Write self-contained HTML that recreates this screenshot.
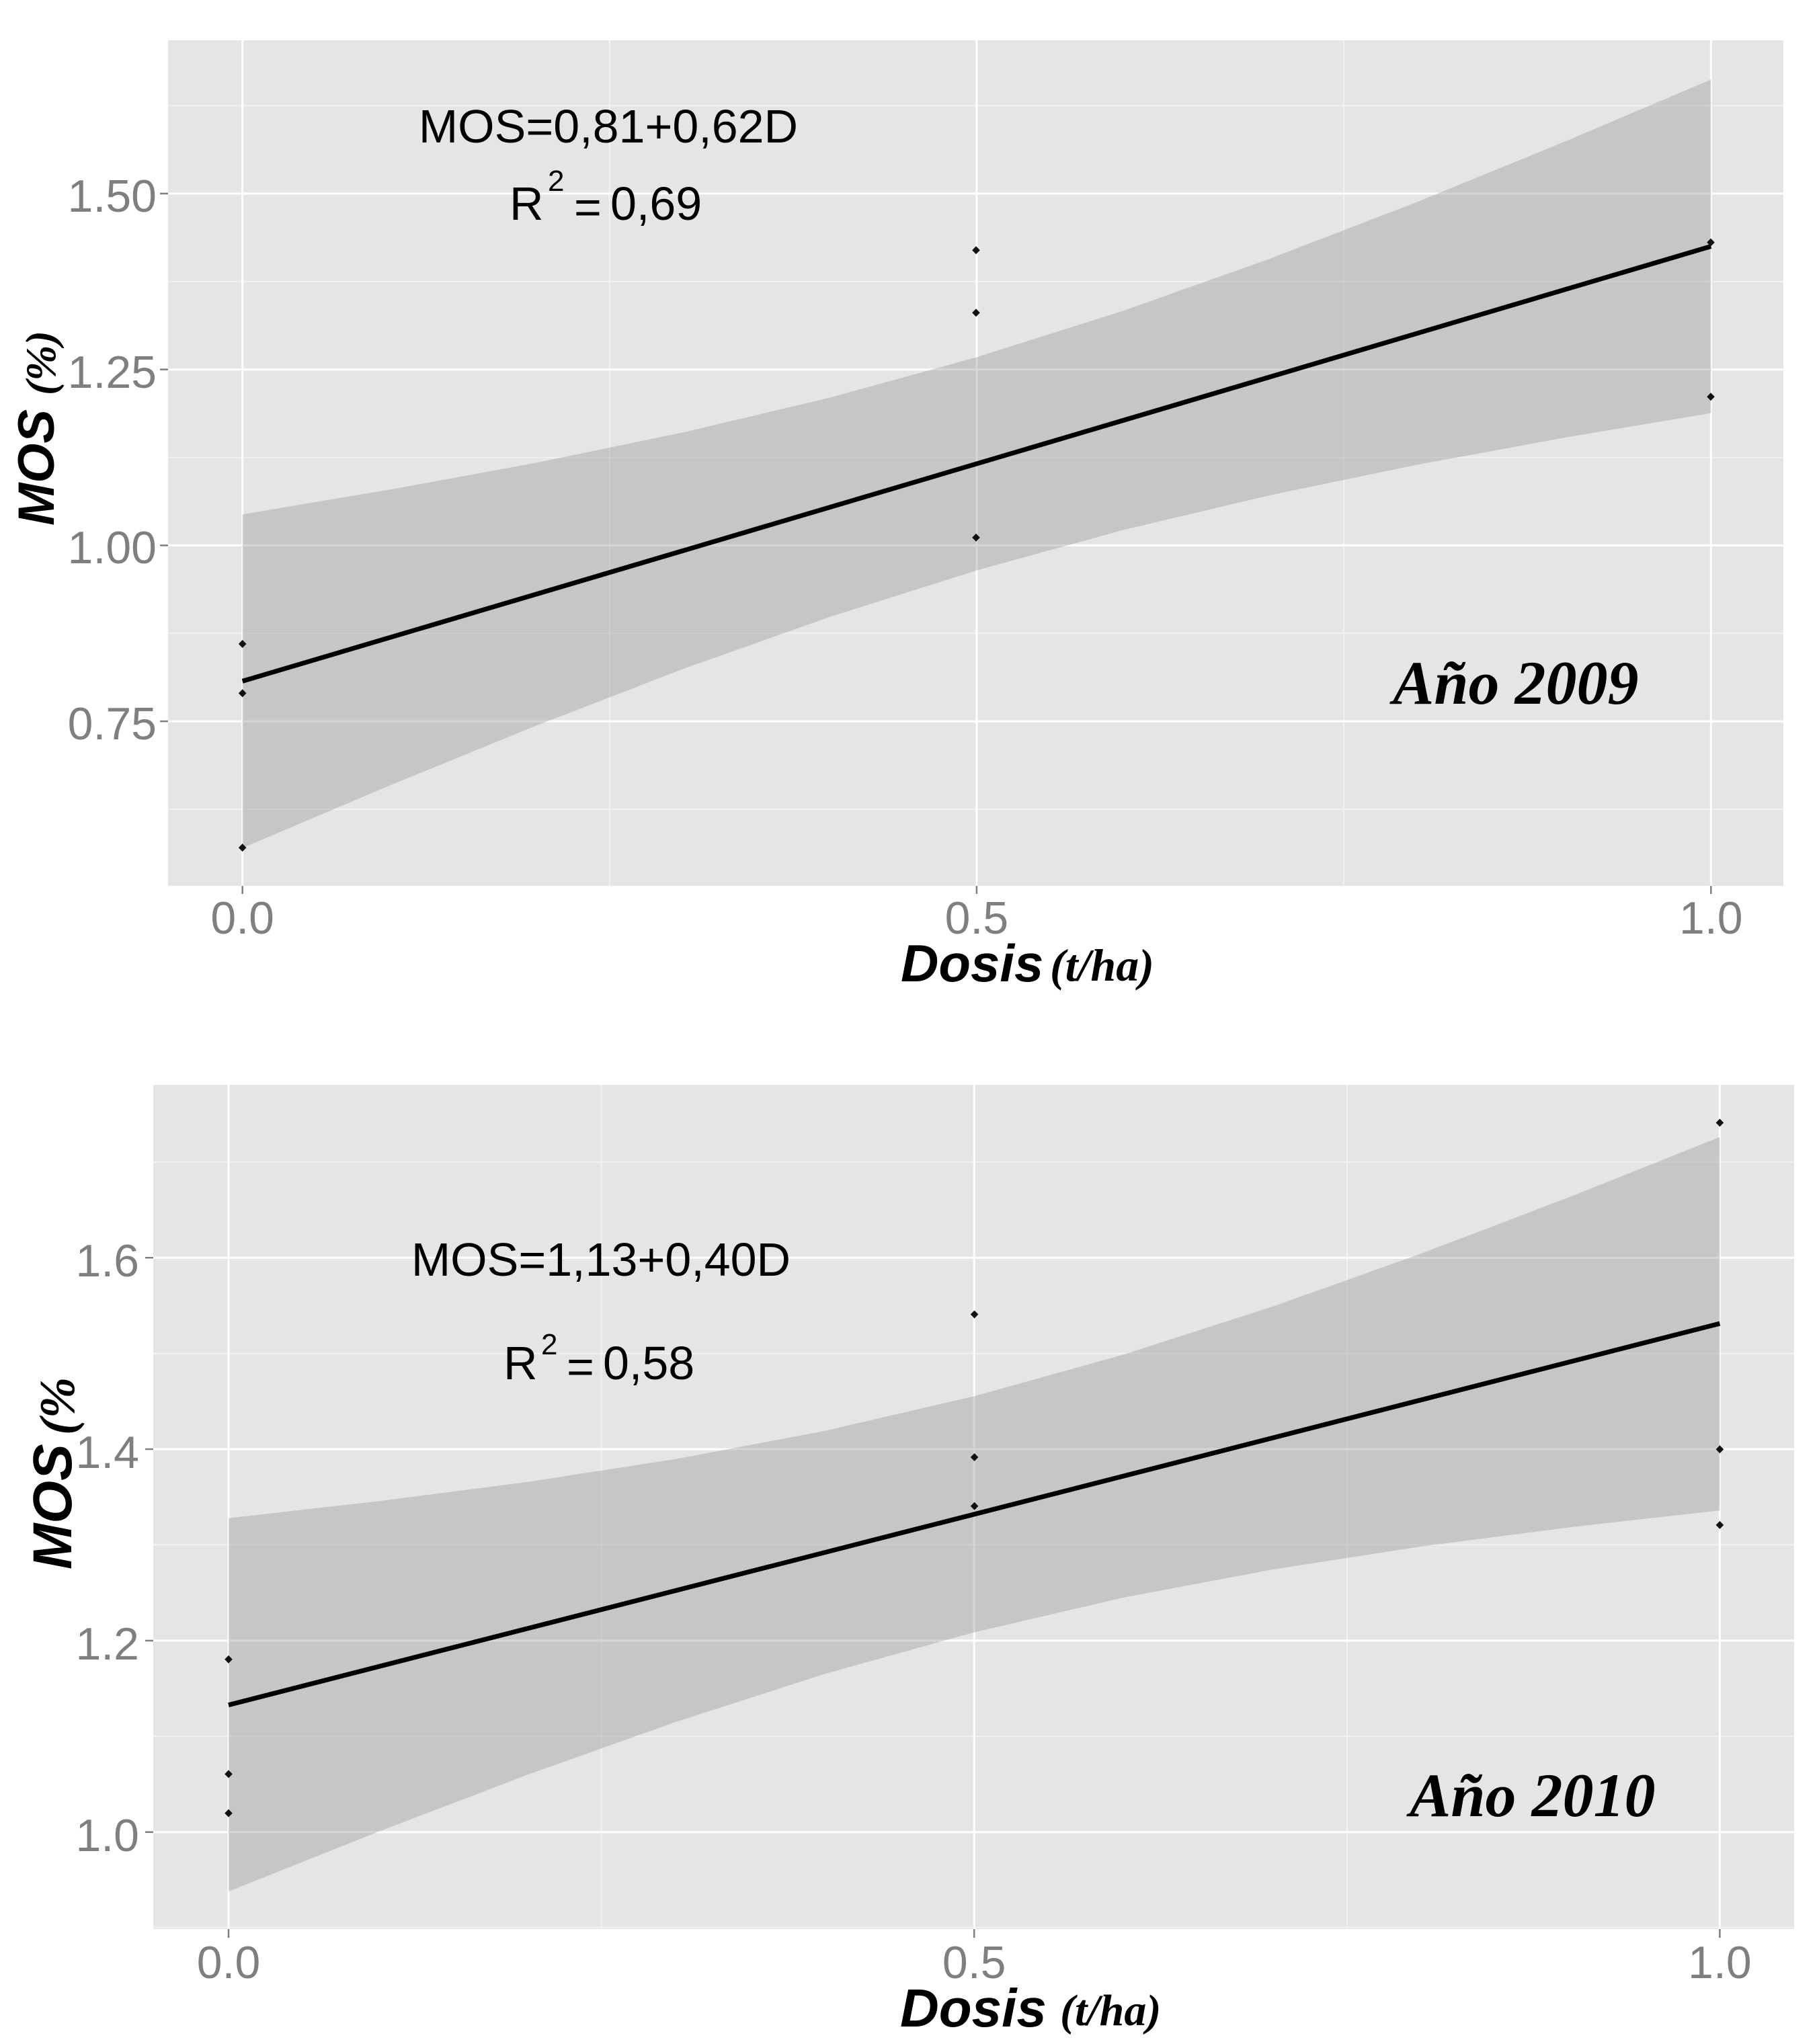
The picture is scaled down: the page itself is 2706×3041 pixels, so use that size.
<!DOCTYPE html>
<html>
<head>
<meta charset="utf-8">
<style>
  html, body { margin: 0; padding: 0; background: #ffffff; }
  svg { display: block; }
  .tick { font-family: "Liberation Sans", Arial, sans-serif; font-size: 68px; fill: #7F7F7F; }
  .ann { font-family: "Liberation Sans", Arial, sans-serif; fill: #000; }
  .ttl { font-family: "Liberation Sans", Arial, sans-serif; font-weight: bold; font-style: italic; fill: #000; }
  .ser { font-family: "Liberation Serif", "Times New Roman", serif; font-weight: bold; font-style: italic; fill: #000; }
</style>
</head>
<body>
<svg width="2706" height="3041" viewBox="0 0 2706 3041" xmlns="http://www.w3.org/2000/svg">
  <rect x="0" y="0" width="2706" height="3041" fill="#ffffff"/>

  <!-- ================= TOP PANEL (2009) ================= -->
  <rect x="250" y="60" width="2403" height="1258" fill="#E5E5E5"/>
  <g stroke="#F2F2F2" stroke-width="2">
    <line x1="250" y1="157.2" x2="2653" y2="157.2"/>
    <line x1="250" y1="418.9" x2="2653" y2="418.9"/>
    <line x1="250" y1="680.6" x2="2653" y2="680.6"/>
    <line x1="250" y1="942.3" x2="2653" y2="942.3"/>
    <line x1="250" y1="1203.9" x2="2653" y2="1203.9"/>
    <line x1="906.8" y1="60" x2="906.8" y2="1318"/>
    <line x1="1999.1" y1="60" x2="1999.1" y2="1318"/>
  </g>
  <g stroke="#FFFFFF" stroke-width="3">
    <line x1="250" y1="288" x2="2653" y2="288"/>
    <line x1="250" y1="549.7" x2="2653" y2="549.7"/>
    <line x1="250" y1="811.4" x2="2653" y2="811.4"/>
    <line x1="250" y1="1073.1" x2="2653" y2="1073.1"/>
    <line x1="360.7" y1="60" x2="360.7" y2="1318"/>
    <line x1="1452.9" y1="60" x2="1452.9" y2="1318"/>
    <line x1="2545.3" y1="60" x2="2545.3" y2="1318"/>
  </g>
  <polygon fill="#999999" fill-opacity="0.4" points="
    360.7,765.3 579.2,728.6 797.6,688.5 1016.1,643.4 1234.5,591.6 1453,531.4 1671.5,462.2 1889.9,384.6 2108.4,300.4 2326.8,211.1 2545.3,118.4
    2545.3,614.6 2326.8,651.3 2108.4,691.4 1889.9,736.6 1671.5,788.4 1453,848.6 1234.5,917.8 1016.1,995.3 797.6,1079.6 579.2,1168.9 360.7,1261.5"/>
  <line x1="360.7" y1="1013.4" x2="2545.3" y2="366.5" stroke="#000" stroke-width="7"/>
  <g fill="#111">
    <polygon points="360.7,952 366.5,958 360.7,964 354.9,958"/>
    <polygon points="360.7,1025.4 366.5,1031.4 360.7,1037.4 354.9,1031.4"/>
    <polygon points="360.7,1255.1 366.5,1261.1 360.7,1267.1 354.9,1261.1"/>
    <polygon points="1452,366.2 1457.8,372.2 1452,378.2 1446.2,372.2"/>
    <polygon points="1452,459.3 1457.8,465.3 1452,471.3 1446.2,465.3"/>
    <polygon points="1452,793.7 1457.8,799.7 1452,805.7 1446.2,799.7"/>
    <polygon points="2545,354.6 2550.8,360.6 2545,366.6 2539.2,360.6"/>
    <polygon points="2545,584.3 2550.8,590.3 2545,596.3 2539.2,590.3"/>
  </g>
  <g stroke="#7F7F7F" stroke-width="2.5">
    <line x1="238" y1="288" x2="250" y2="288"/>
    <line x1="238" y1="549.7" x2="250" y2="549.7"/>
    <line x1="238" y1="811.4" x2="250" y2="811.4"/>
    <line x1="238" y1="1073.1" x2="250" y2="1073.1"/>
    <line x1="360.7" y1="1318" x2="360.7" y2="1330"/>
    <line x1="1452.9" y1="1318" x2="1452.9" y2="1330"/>
    <line x1="2545.3" y1="1318" x2="2545.3" y2="1330"/>
  </g>
  <g class="tick" text-anchor="end">
    <text x="233" y="315">1.50</text>
    <text x="233" y="577">1.25</text>
    <text x="233" y="838">1.00</text>
    <text x="233" y="1100">0.75</text>
  </g>
  <g class="tick" text-anchor="middle">
    <text x="360.7" y="1389">0.0</text>
    <text x="1452.9" y="1389">0.5</text>
    <text x="2545.3" y="1389">1.0</text>
  </g>
  <text class="ann" x="905" y="212" font-size="70" text-anchor="middle">MOS=0,81+0,62D</text>
  <text class="ann" x="758" y="327" font-size="70">R</text>
  <text class="ann" x="815" y="284" font-size="44">2</text>
  <text class="ann" x="854" y="332" font-size="70">=</text>
  <text class="ann" x="908" y="327" font-size="70">0,69</text>
  <text class="ser" x="2072" y="1047" font-size="92">Año 2009</text>
  <text class="ttl" x="1340" y="1460" font-size="78">Dosis</text>
  <text class="ser" x="1562" y="1459" font-size="68">(t/ha)</text>
  <g transform="translate(80,782) rotate(-90)">
    <text class="ttl" x="0" y="0" font-size="76">MOS</text>
    <text class="ser" x="194" y="2" font-size="64">(%)</text>
  </g>

  <!-- ================= BOTTOM PANEL (2010) ================= -->
  <rect x="228" y="1614" width="2441" height="1256" fill="#E5E5E5"/>
  <g stroke="#F2F2F2" stroke-width="2">
    <line x1="228" y1="1728.7" x2="2669" y2="1728.7"/>
    <line x1="228" y1="2013.6" x2="2669" y2="2013.6"/>
    <line x1="228" y1="2298.4" x2="2669" y2="2298.4"/>
    <line x1="228" y1="2583.3" x2="2669" y2="2583.3"/>
    <line x1="228" y1="2867.5" x2="2669" y2="2867.5"/>
    <line x1="894.6" y1="1614" x2="894.6" y2="2870"/>
    <line x1="2003.8" y1="1614" x2="2003.8" y2="2870"/>
  </g>
  <g stroke="#FFFFFF" stroke-width="3">
    <line x1="228" y1="1871.2" x2="2669" y2="1871.2"/>
    <line x1="228" y1="2156" x2="2669" y2="2156"/>
    <line x1="228" y1="2440.9" x2="2669" y2="2440.9"/>
    <line x1="228" y1="2725.7" x2="2669" y2="2725.7"/>
    <line x1="340" y1="1614" x2="340" y2="2870"/>
    <line x1="1449.2" y1="1614" x2="1449.2" y2="2870"/>
    <line x1="2558.4" y1="1614" x2="2558.4" y2="2870"/>
  </g>
  <polygon fill="#999999" fill-opacity="0.4" points="
    340,2258.6 561.8,2233.6 783.7,2205 1005.5,2170.7 1227.4,2128.8 1449.2,2077.2 1671,2015.4 1892.9,1944 2114.7,1864.9 2336.6,1780.2 2558.4,1691.7
    2558.4,2247.2 2336.6,2272.1 2114.7,2300.7 1892.9,2335.1 1671,2376.9 1449.2,2428.5 1227.4,2490.3 1005.5,2561.8 783.7,2640.8 561.8,2725.6 340,2814"/>
  <line x1="340" y1="2536.6" x2="2558.4" y2="1969.1" stroke="#000" stroke-width="7"/>
  <g fill="#111">
    <polygon points="340,2462.7 345.8,2468.7 340,2474.7 334.2,2468.7"/>
    <polygon points="340,2633.4 345.8,2639.4 340,2645.4 334.2,2639.4"/>
    <polygon points="340,2691.6 345.8,2697.6 340,2703.6 334.2,2697.6"/>
    <polygon points="1449.6,1949.5 1455.4,1955.5 1449.6,1961.5 1443.8,1955.5"/>
    <polygon points="1449.6,2162 1455.4,2168 1449.6,2174 1443.8,2168"/>
    <polygon points="1449.6,2234.7 1455.4,2240.7 1449.6,2246.7 1443.8,2240.7"/>
    <polygon points="2558.4,1664.4 2564.2,1670.4 2558.4,1676.4 2552.6,1670.4"/>
    <polygon points="2558.4,2150.3 2564.2,2156.3 2558.4,2162.3 2552.6,2156.3"/>
    <polygon points="2558.4,2262.9 2564.2,2268.9 2558.4,2274.9 2552.6,2268.9"/>
  </g>
  <g stroke="#7F7F7F" stroke-width="2.5">
    <line x1="216" y1="1871.2" x2="228" y2="1871.2"/>
    <line x1="216" y1="2156" x2="228" y2="2156"/>
    <line x1="216" y1="2440.9" x2="228" y2="2440.9"/>
    <line x1="216" y1="2725.7" x2="228" y2="2725.7"/>
    <line x1="340" y1="2870" x2="340" y2="2883"/>
    <line x1="1449.2" y1="2870" x2="1449.2" y2="2883"/>
    <line x1="2558.4" y1="2870" x2="2558.4" y2="2883"/>
  </g>
  <g class="tick" text-anchor="end">
    <text x="207" y="1899">1.6</text>
    <text x="207" y="2184">1.4</text>
    <text x="207" y="2469">1.2</text>
    <text x="207" y="2754">1.0</text>
  </g>
  <g class="tick" text-anchor="middle">
    <text x="340" y="2943">0.0</text>
    <text x="1449.2" y="2943">0.5</text>
    <text x="2558.4" y="2943">1.0</text>
  </g>
  <text class="ann" x="894" y="1898" font-size="70" text-anchor="middle">MOS=1,13+0,40D</text>
  <text class="ann" x="749" y="2052" font-size="70">R</text>
  <text class="ann" x="805" y="2015" font-size="44">2</text>
  <text class="ann" x="843" y="2057" font-size="70">=</text>
  <text class="ann" x="897" y="2052" font-size="70">0,58</text>
  <text class="ser" x="2097" y="2702" font-size="92">Año 2010</text>
  <text class="ttl" x="1339" y="3015" font-size="80">Dosis</text>
  <text class="ser" x="1577" y="3013" font-size="66">(t/ha)</text>
  <g transform="translate(106,2335) rotate(-90)">
    <text class="ttl" x="0" y="0" font-size="82">MOS</text>
    <text class="ser" x="200" y="4" font-size="74">(%</text>
  </g>
</svg>
</body>
</html>
